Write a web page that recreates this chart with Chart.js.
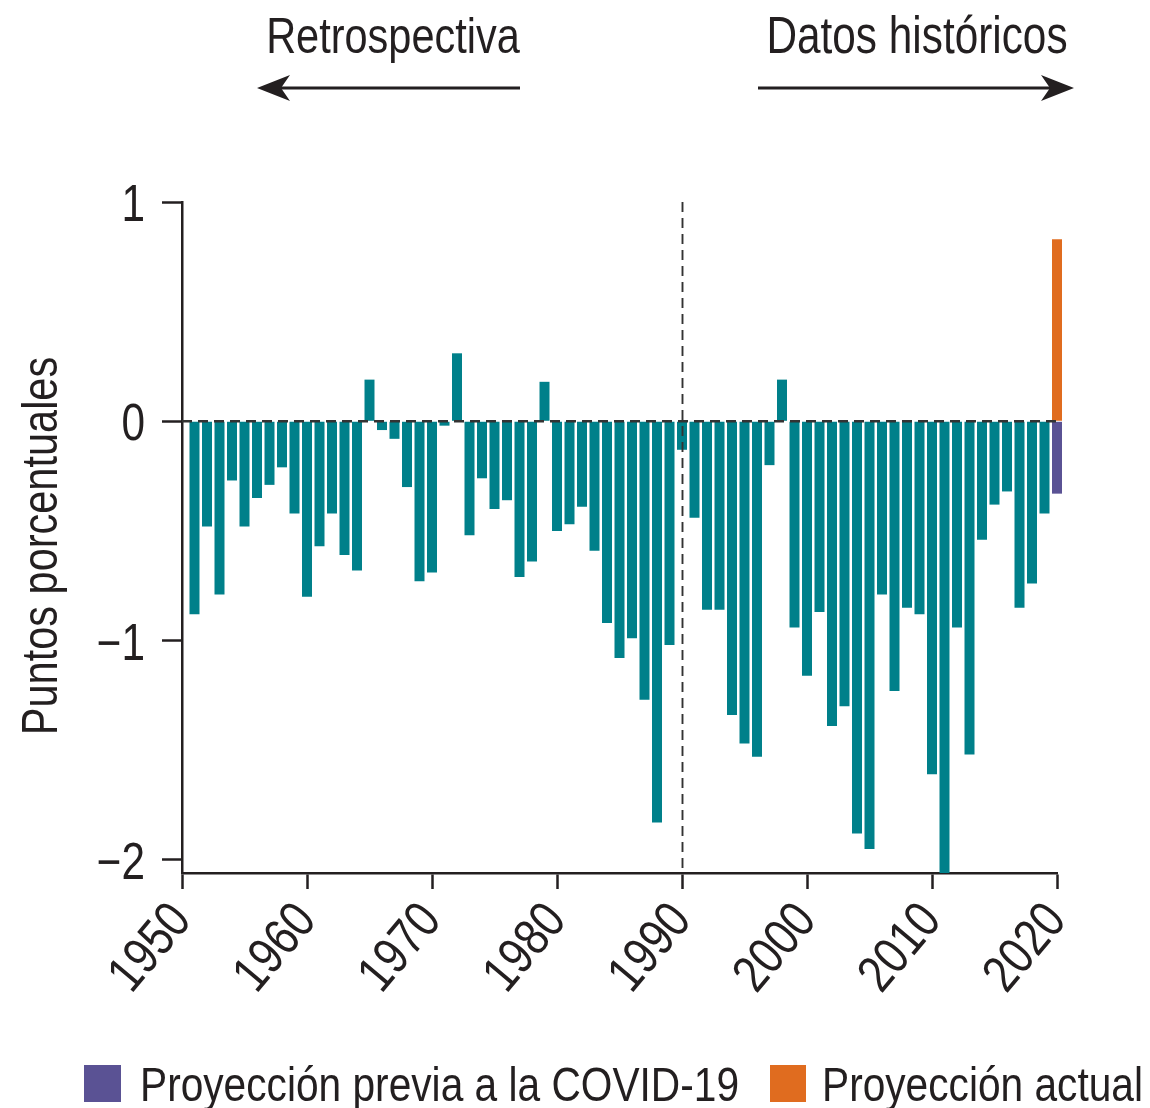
<!DOCTYPE html>
<html>
<head>
<meta charset="utf-8">
<script src="https://cdn.jsdelivr.net/npm/chart.js@4.4.1/dist/chart.umd.min.js"></script>
<style>
  html, body { margin: 0; padding: 0; background: #ffffff; }
  #wrap { position: relative; width: 1150px; height: 1108px; }
  canvas { display: block; }
</style>
</head>
<body>
<div id="wrap"><canvas id="c" width="1150" height="1108"></canvas></div>
<script>
// ---------- data ----------
const years = [1951,1952,1953,1954,1955,1956,1957,1958,1959,1960,
  1961,1962,1963,1964,1965,1966,1967,1968,1969,1970,
  1971,1972,1973,1974,1975,1976,1977,1978,1979,1980,
  1981,1982,1983,1984,1985,1986,1987,1988,1989,1990,
  1991,1992,1993,1994,1995,1996,1997,1998,1999,2000,
  2001,2002,2003,2004,2005,2006,2007,2008,2009,2010,
  2011,2012,2013,2014,2015,2016,2017,2018,2019];
const historical = [-0.88,-0.48,-0.79,-0.27,-0.48,-0.35,-0.29,-0.21,-0.42,-0.80,
  -0.57,-0.42,-0.61,-0.68,0.19,-0.04,-0.08,-0.30,-0.73,-0.69,
  -0.02,0.31,-0.52,-0.26,-0.40,-0.36,-0.71,-0.64,0.18,-0.50,
  -0.47,-0.39,-0.59,-0.92,-1.08,-0.99,-1.27,-1.83,-1.02,-0.13,
  -0.44,-0.86,-0.86,-1.34,-1.47,-1.53,-0.20,0.19,-0.94,-1.16,
  -0.87,-1.39,-1.30,-1.88,-1.95,-0.79,-1.23,-0.85,-0.88,-1.61,
  -2.06,-0.94,-1.52,-0.54,-0.38,-0.32,-0.85,-0.74,-0.42];
const projectionYear = 2020;
const preCovidProjection = [-0.33];
const currentProjection = [0.83];
const yTicks = [1, 0, -1, -2];
const xTicks = [1950, 1960, 1970, 1980, 1990, 2000, 2010, 2020];
const legendLabels = ['Proyección previa a la COVID-19', 'Proyección actual'];
const headerLeft = 'Retrospectiva';
const headerRight = 'Datos históricos';
const yTitle = 'Puntos porcentuales';
const splitYear = 1990;

// ---------- styles ----------
const FONT = "'Liberation Sans', Arial, sans-serif";
const NARROW = 0.83;
const INK = '#231f20';
const TEAL = '#00808a';
const PURPLE = '#5a5294';
const ORANGE = '#e06c1f';

const histPoints = years.map((y, i) => ({ x: y, y: historical[i] }));

function narrowText(ctx, text, x, y, size, align, rot) {
  ctx.save();
  ctx.translate(x, y);
  if (rot) ctx.rotate(rot);
  ctx.scale(NARROW, 1);
  ctx.font = size + 'px ' + FONT;
  ctx.textAlign = align;
  ctx.textBaseline = 'alphabetic';
  ctx.fillText(text, 0, 0);
  ctx.restore();
}

const overlay = {
  id: 'overlay',
  afterDatasetsDraw(chart) {
    const ctx = chart.ctx;
    const xs = chart.scales.x, ys = chart.scales.y;
    const area = chart.chartArea;
    ctx.save();
    // zero dashed line
    const y0 = ys.getPixelForValue(0);
    ctx.strokeStyle = '#333333';
    ctx.lineWidth = 2.4;
    ctx.setLineDash([10, 6]);
    ctx.beginPath();
    ctx.moveTo(area.left, y0);
    ctx.lineTo(area.right, y0);
    ctx.stroke();
    // split vertical dashed line
    const xSplit = Math.round(xs.getPixelForValue(splitYear)) + 0.5;
    ctx.lineWidth = 1.9;
    ctx.setLineDash([10, 6]);
    ctx.beginPath();
    ctx.moveTo(xSplit, area.top);
    ctx.lineTo(xSplit, area.bottom);
    ctx.stroke();
    ctx.restore();
  },
  afterDraw(chart) {
    const ctx = chart.ctx;
    const xs = chart.scales.x, ys = chart.scales.y;
    ctx.save();
    ctx.fillStyle = INK;
    ctx.strokeStyle = INK;
    // y tick labels
    ys.ticks.forEach(t => {
      const v = t.value;
      const lbl = v < 0 ? '\u2212' + Math.abs(v) : String(v);
      narrowText(ctx, lbl, 145, ys.getPixelForValue(v) + 19, 51, 'right');
    });
    // x tick labels (rotated)
    xs.ticks.forEach(t => {
      narrowText(ctx, String(t.value), xs.getPixelForValue(t.value) + 11, 921, 52, 'right', -50 * Math.PI / 180);
    });
    // y title
    narrowText(ctx, yTitle, 57, 546, 50, 'center', -Math.PI / 2);
    // headers
    narrowText(ctx, headerLeft, 393, 53, 50, 'center');
    narrowText(ctx, headerRight, 917, 53, 51, 'center');
    // arrows
    const ay = 88;
    ctx.lineWidth = 3;
    ctx.setLineDash([]);
    ctx.beginPath(); ctx.moveTo(520, ay); ctx.lineTo(275, ay); ctx.stroke();
    ctx.beginPath(); ctx.moveTo(758, ay); ctx.lineTo(1055, ay); ctx.stroke();
    function head(tipX, dir) {
      ctx.beginPath();
      ctx.moveTo(tipX, ay);
      ctx.lineTo(tipX + dir * 33, ay - 13);
      ctx.lineTo(tipX + dir * 24, ay);
      ctx.lineTo(tipX + dir * 33, ay + 13);
      ctx.closePath();
      ctx.fill();
    }
    head(257, 1);
    head(1074, -1);
    // legend
    ctx.fillStyle = PURPLE;
    ctx.fillRect(84, 1065, 37, 37);
    ctx.fillStyle = ORANGE;
    ctx.fillRect(770, 1065, 36, 37);
    ctx.fillStyle = INK;
    narrowText(ctx, legendLabels[0], 140, 1101, 49, 'left');
    narrowText(ctx, legendLabels[1], 822, 1101, 49, 'left');
    ctx.restore();
  }
};

new Chart(document.getElementById('c'), {
  type: 'bar',
  data: {
    datasets: [
      { label: 'Datos', data: histPoints, backgroundColor: TEAL, barPercentage: 0.8, categoryPercentage: 1.0, grouped: false, order: 2 },
      { label: legendLabels[0], data: [{ x: projectionYear, y: preCovidProjection[0] }], backgroundColor: PURPLE, barPercentage: 0.8, categoryPercentage: 1.0, grouped: false, clip: false, order: 1 },
      { label: legendLabels[1], data: [{ x: projectionYear, y: currentProjection[0] }], backgroundColor: ORANGE, barPercentage: 0.8, categoryPercentage: 1.0, grouped: false, clip: false, order: 1 }
    ]
  },
  options: {
    responsive: false,
    animation: false,
    layout: { padding: { top: 202, right: 93, bottom: 0, left: 0 } },
    plugins: { legend: { display: false }, tooltip: { enabled: false } },
    scales: {
      x: {
        type: 'linear',
        min: 1950, max: 2020,
        offset: false,
        afterFit(s) { s.height = 1108 - 873; },
        afterBuildTicks(s) { s.ticks = xTicks.map(v => ({ value: v })); },
        ticks: { display: false, autoSkip: false },
        grid: { display: true, offset: false, drawOnChartArea: false, drawTicks: true, tickLength: 16, tickWidth: 2.5, tickColor: INK },
        border: { display: true, color: INK, width: 2.5 }
      },
      y: {
        min: -2.06, max: 1,
        afterFit(s) { s.width = 182; },
        afterBuildTicks(s) { s.ticks = yTicks.map(v => ({ value: v })); },
        ticks: { display: false },
        grid: { display: true, offset: false, drawOnChartArea: false, drawTicks: true, tickLength: 20, tickWidth: 2.5, tickColor: INK },
        border: { display: true, color: INK, width: 2.5 }
      }
    }
  },
  plugins: [overlay]
});
</script>
</body>
</html>
